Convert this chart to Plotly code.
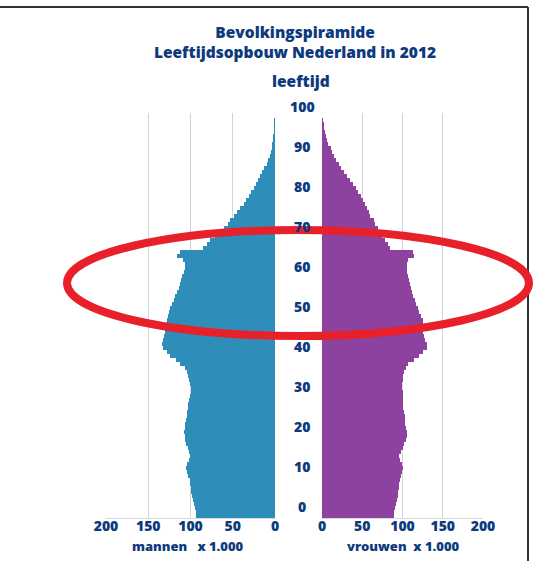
import plotly.graph_objects as go

ages = list(range(0, 100))

mannen = [93, 94, 95, 96, 97, 98, 99, 100, 101, 101,
          103, 104, 105, 104, 102, 101, 102, 103, 105, 106,
          107, 108, 107, 106, 105, 104, 104, 103, 103, 102,
          101, 100, 100, 101, 102, 103, 104, 106, 112, 117,
          124, 128, 133, 134, 132, 131, 130, 130, 129, 128,
          127, 126, 124, 122, 120, 118, 116, 114, 112, 111,
          110, 108, 106, 107, 109, 116, 113, 85, 81, 77,
          71, 65, 60, 56, 53, 49, 45, 41, 37, 34,
          31, 28, 25, 22, 20, 18, 15, 13, 10, 8,
          6, 5, 4, 3, 2, 1.5, 1, 0.6, 0.4, 0.2]

vrouwen = [89, 90, 91, 92, 93, 94, 95, 96, 96, 97,
           98, 99, 100, 99, 97, 96, 98, 100, 102, 104,
           105, 105, 104, 103, 103, 103, 102, 101, 100, 100,
           100, 100, 99, 99, 100, 100, 102, 104, 107, 114,
           121, 126, 131, 130, 128, 127, 126, 126, 125, 125,
           123, 121, 119, 117, 115, 113, 112, 110, 109, 108,
           107, 106, 105, 105, 107, 114, 113, 84, 82, 78,
           74, 71, 69, 66, 64, 60, 58, 56, 53, 51,
           48, 45, 42, 38, 35, 31, 27, 24, 21, 18,
           15, 13, 11, 8, 6, 5, 4, 3, 2, 1]

age_ticks = [0, 10, 20, 30, 40, 50, 60, 70, 80, 90, 100]
x_ticks = [0, 50, 100, 150, 200]

BLUE_TXT = "#0d3a7c"
MALE = "#2f8dba"
FEMALE = "#8e429f"
FONT = "Open Sans"
WEIGHT = 800
W, H = 536, 561
TOP, BOT = 113, 518

fig = go.Figure()
fig.add_trace(go.Bar(x=mannen, y=ages, orientation="h", width=1,
                     marker=dict(color=MALE, line=dict(width=0)),
                     xaxis="x", yaxis="y", showlegend=False, hoverinfo="x+y"))
fig.add_trace(go.Bar(x=vrouwen, y=ages, orientation="h", width=1,
                     marker=dict(color=FEMALE, line=dict(width=0)),
                     xaxis="x2", yaxis="y2", showlegend=False, hoverinfo="x+y"))

axis_common = dict(
    tickvals=x_ticks, ticktext=[str(v) for v in x_ticks],
    showgrid=True, gridcolor="#d4d4d4", gridwidth=1,
    zeroline=False, showline=True, linecolor="#d9d9d9", linewidth=1,
    ticks="", ticklabelstandoff=-5, automargin=False,
    tickfont=dict(family=FONT, size=14, color=BLUE_TXT, weight=WEIGHT),
    fixedrange=True,
)
yaxis_common = dict(range=[-0.5, 100.75], showgrid=False, zeroline=False,
                    showticklabels=False, ticks="", showline=False, fixedrange=True,
                    automargin=False)

fig.update_layout(
    width=W, height=H, autosize=False,
    margin=dict(l=0, r=0, t=TOP, b=H - BOT, pad=0, autoexpand=False),
    paper_bgcolor="white", plot_bgcolor="white",
    bargap=0,
    xaxis=dict(domain=[106 / W, 275 / W], range=[200, 0], **axis_common),
    xaxis2=dict(domain=[322 / W, 483 / W], range=[0, 200], anchor="y2", **axis_common),
    yaxis=dict(anchor="x", **yaxis_common),
    yaxis2=dict(anchor="x2", **yaxis_common),
    title=dict(text="Bevolkingspiramide<br>Leeftijdsopbouw Nederland in 2012",
               x=295 / W, xanchor="center", y=1 - 38 / H, yanchor="middle",
               font=dict(family=FONT, size=15.5, color=BLUE_TXT, weight=WEIGHT)),
)

ann = []
for a in age_ticks:
    ann.append(dict(x=302 / W, xref="paper", y=a, yref="y", yshift=10,
                    text=str(a), showarrow=False, xanchor="center", yanchor="middle",
                    font=dict(family=FONT, size=14, color=BLUE_TXT, weight=WEIGHT)))

def py(p):
    return (BOT - p) / (BOT - TOP)

ann.append(dict(x=301 / W, xref="paper", y=py(81), yref="paper", text="leeftijd",
                showarrow=False, xanchor="center", yanchor="middle",
                font=dict(family=FONT, size=15.5, color=BLUE_TXT, weight=WEIGHT)))
ann.append(dict(x=188 / W, xref="paper", y=py(546), yref="paper",
                text="mannen&nbsp;&nbsp;&nbsp;x 1.000",
                showarrow=False, xanchor="center", yanchor="middle",
                font=dict(family=FONT, size=13, color=BLUE_TXT, weight=WEIGHT)))
ann.append(dict(x=403 / W, xref="paper", y=py(546), yref="paper",
                text="vrouwen&nbsp;&nbsp;x 1.000",
                showarrow=False, xanchor="center", yanchor="middle",
                font=dict(family=FONT, size=13, color=BLUE_TXT, weight=WEIGHT)))
fig.update_layout(annotations=ann)

shapes = [
    dict(type="line", xref="paper", yref="paper", x0=0, x1=528 / W, y0=py(7), y1=py(7),
         line=dict(color="#333333", width=2)),
    dict(type="line", xref="paper", yref="paper", x0=528 / W, x1=528 / W, y0=py(7), y1=py(561),
         line=dict(color="#333333", width=2)),
    dict(type="circle", xref="paper", yref="paper",
         x0=67 / W, x1=529 / W, y0=py(336), y1=py(230),
         line=dict(color="#e8202a", width=8), fillcolor="rgba(0,0,0,0)"),
]
fig.update_layout(shapes=shapes)

fig.write_html("out.html", config={"displayModeBar": False},
               post_script="document.body.style.margin='0';document.body.style.overflow='hidden';")
